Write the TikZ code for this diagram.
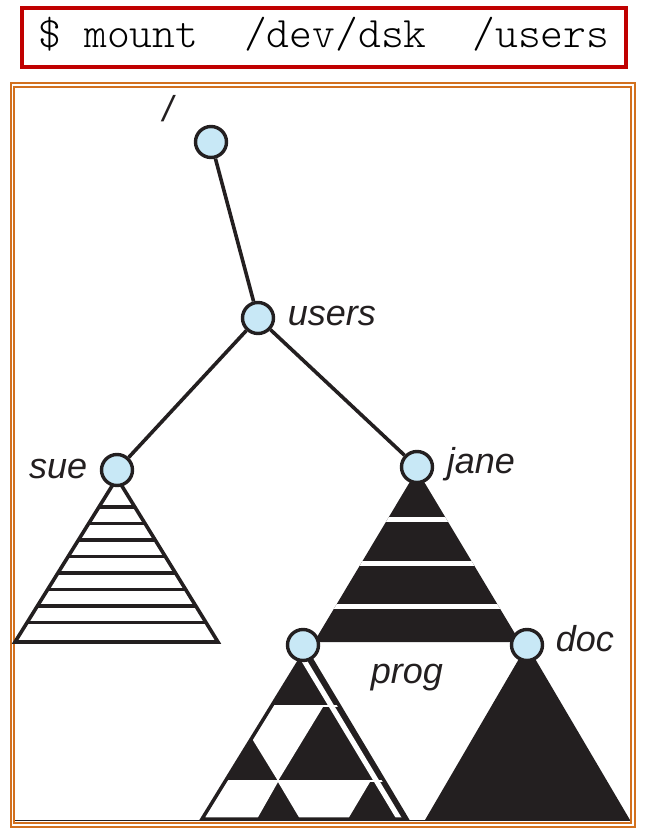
\documentclass[tikz,border=0pt]{standalone}
\usepackage{fontspec}
\newfontfamily\lblfont{Liberation Sans}
\newfontfamily\cmdfont{lmmonolt10-regular}[Extension=.otf]
\definecolor{ink}{RGB}{35,31,32}
\definecolor{dirblue}{RGB}{200,232,246}
\definecolor{cmdred}{RGB}{192,0,0}
\definecolor{frameorange}{RGB}{210,112,30}

\begin{document}
\begin{tikzpicture}[x=1pt, y=-1pt, line width=3.6pt,
	dir/.style={circle, draw=ink, fill=dirblue, line width=3.4pt, minimum size=31pt, inner sep=0pt},
	lbl/.style={font=\lblfont\itshape\fontsize{36}{40}\selectfont, text=ink, inner sep=0pt, anchor=base west}]
	\useasboundingbox (0,0) rectangle (645,834);
	% command
	\node[draw=cmdred, line width=4pt, minimum width=604pt, minimum height=59pt, inner sep=0pt,
		text height=30pt, text depth=9pt, font=\cmdfont\fontsize{43.5}{44}\selectfont] (cmd) at (324,37.5)
		{\$ mount\ \ /dev/dsk\ \ /users};
	% frame
	\draw[frameorange, line width=2pt] (10.5,83) rectangle (635,827);
	\draw[frameorange, line width=2pt] (14,87) rectangle (631,823);
	\draw[ink, line width=1.5pt] (15,820.5) -- (630,820.5);
	% sue
	\begin{scope}
		\clip (117,478) -- (15,642) -- (218,642) -- cycle;
		\foreach \y in {507,523.5,540,556.5,573,589.5,606,622.5}
		\draw[ink] (0,\y) -- (645,\y);
	\end{scope}
	\draw[ink, line join=miter] (117,478) -- (15,642) -- (218,642) -- cycle;
	% jane
	\begin{scope}
		\clip (417,470) -- (314,642) -- (520,642) -- cycle;
		\fill[ink] (300,460) rectangle (540,650);
		\foreach \y in {519.5,563.5,606.5}
		\fill[white] (300,\y-2.5) rectangle (540,\y+2.5);
	\end{scope}
	% prog
	\begin{scope}
		\clip (306,650) -- (202,819) -- (407,819) -- cycle;
		\fill[ink] (190,640) rectangle (420,830);
		\fill[white] (230,707) -- (323,707) -- (278,781) -- (251,737) -- (230,737) -- cycle;
		\fill[white] (190,782) -- (278,782) -- (257,819) -- (190,819) -- cycle;
		\fill[white] (278,782) -- (370,782) -- (348,819) -- (300,819) -- cycle;
		\fill[white] (297.7,655) -- (303.7,655) -- (402.4,819) -- (396.4,819) -- cycle;
		\fill[white] (190,704.5) rectangle (420,707);
		\fill[white] (190,779.5) rectangle (420,782);
	\end{scope}
	\draw[ink, line width=3.5pt, line join=miter] (306,650) -- (202,819) -- (407,819) -- cycle;
	% doc
	\fill[ink] (527,645) -- (425,820) -- (630,820) -- cycle;
	% directories
	\node[dir] (root) at (211,142) {};
	\node[dir] (users) at (258,318) {};
	\node[dir] (sue) at (117,470) {};
	\node[dir] (jane) at (417,467) {};
	\node[dir] (prog) at (303,645) {};
	\node[dir] (doc) at (527,645) {};
	\draw[ink] (root) -- (users);
	\draw[ink] (users) -- (sue);
	\draw[ink] (users) -- (jane);
	% labels
	\node[lbl] (rootlbl) at (161,122) {/};
	\node[lbl] (userslbl) at (286,325) {users};
	\node[lbl, anchor=base east] (suelbl) at (89,478) {sue};
	\node[lbl] (janelbl) at (445,473) {jane};
	\node[lbl] (proglbl) at (369,683) {prog};
	\node[lbl] (doclbl) at (554,651) {doc};
\end{tikzpicture}
\end{document}
